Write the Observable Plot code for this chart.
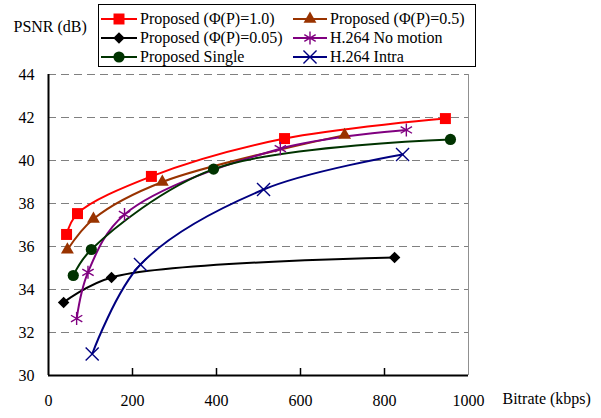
<!DOCTYPE html>
<html>
<head>
<meta charset="utf-8">
<script src="https://cdn.jsdelivr.net/npm/d3@7"></script>
<script src="https://cdn.jsdelivr.net/npm/@observablehq/plot@0.6"></script>
<style>
  html, body { margin: 0; padding: 0; background: #fff; }
  #wrap { position: relative; width: 601px; height: 418px; font-family: "Liberation Serif", "Times New Roman", Times, "DejaVu Serif", serif; }
  #legend { position: absolute; left: 98px; top: 4px; width: 378px; height: 63px; border: 1px solid #000; background: #fff; box-sizing: border-box; }
  .item { position: absolute; font-size: 16px; line-height: 16px; white-space: nowrap; display: flex; align-items: center; font-family: "Liberation Serif", "Times New Roman", Times, "DejaVu Serif", serif; }
  .item svg { margin-right: 3px; }
  svg text { font-family: "Liberation Serif", "Times New Roman", Times, "DejaVu Serif", serif; }
</style>
</head>
<body>
<div id="wrap"><div id="legend"></div></div>
<script>
// ---- data ----
const seriesNames = ["Proposed (\u03A6(P)=1.0)", "Proposed (\u03A6(P)=0.5)", "Proposed (\u03A6(P)=0.05)", "H.264 No motion", "Proposed Single", "H.264 Intra"];
const bitrate1 = [43, 69, 245, 562, 945];
const psnr1 = [36.56, 37.53, 39.26, 41.02, 41.95];
const bitrate05 = [45, 107, 271, 705];
const psnr05 = [35.85, 37.28, 39.0, 41.18];
const bitrate005 = [36, 150, 824];
const psnr005 = [33.4, 34.56, 35.49];
const bitrateNoMotion = [67, 94, 181, 552, 852];
const psnrNoMotion = [32.65, 34.8, 37.49, 40.55, 41.42];
const bitrateSingle = [59, 102, 393, 957];
const psnrSingle = [34.65, 35.86, 39.6, 40.98];
const bitrateIntra = [104, 219, 512, 843];
const psnrIntra = [31.0, 35.16, 38.65, 40.28];
const xTicks = [0, 200, 400, 600, 800, 1000];
const yTicks = [30, 32, 34, 36, 38, 40, 42, 44];

// ---- styles ----
const serif = "'Liberation Serif', 'Times New Roman', Times, 'DejaVu Serif', serif";
const styles = [
  {color: "#ff0000", symbol: "square", r: 6.2, filled: true},
  {color: "#993300", symbol: "triangle", r: 4.8, filled: true},
  {color: "#000000", symbol: "diamond2", r: 5.2, filled: true},
  {color: "#800080", symbol: "asterisk", r: 6.2, filled: false},
  {color: "#003300", symbol: "circle", r: 5.6, filled: true},
  {color: "#000080", symbol: "times", r: 6.0, filled: false}
];
const xs = [bitrate1, bitrate05, bitrate005, bitrateNoMotion, bitrateSingle, bitrateIntra];
const ys = [psnr1, psnr05, psnr005, psnrNoMotion, psnrSingle, psnrIntra];
const series = seriesNames.map((name, i) => ({
  name, style: styles[i],
  data: xs[i].map((x, j) => ({x, y: ys[i][j]}))
}));

const marks = [
  Plot.ruleY(yTicks.filter(d => d > 30), {stroke: "#808080", strokeWidth: 1, strokeDasharray: "8,5"}),
  Plot.ruleX([1000], {stroke: "#909090", strokeWidth: 1}),
  Plot.ruleX([0], {stroke: "#000", strokeWidth: 2}),
  Plot.ruleY([30], {stroke: "#000", strokeWidth: 2}),
  Plot.axisX({ticks: xTicks.slice(1, 5), tickSize: -7, text: null, label: null, stroke: "#000", strokeWidth: 1.5}),
  Plot.axisX({ticks: xTicks, tickSize: 0, tickPadding: 19, label: null, tickFormat: d3.format("d"), fill: "#000", fontSize: 16}),
  Plot.axisY({ticks: yTicks, tickSize: 0, tickPadding: 14, label: null, tickFormat: d3.format("d"), fill: "#000", fontSize: 16}),
  Plot.text(["Bitrate (kbps)"], {frameAnchor: "bottom-right", textAnchor: "start", dx: 34, dy: 28, fontSize: 16, fill: "#000"}),
  Plot.text(["PSNR (dB)"], {frameAnchor: "top-left", textAnchor: "start", dx: -35, dy: -54, fontSize: 16, fill: "#000"})
];
for (const s of series) {
  marks.push(Plot.line(s.data, {x: "x", y: "y", stroke: s.style.color, strokeWidth: 2, curve: "catmull-rom"}));
}
for (const s of series) {
  const st = s.style;
  marks.push(Plot.dot(s.data, {
    x: "x", y: "y", symbol: () => st.symbol, r: st.r,
    fill: st.filled ? st.color : "none",
    stroke: st.filled ? "none" : st.color,
    strokeWidth: st.filled ? 0 : 1.4
  }));
}

const chart = Plot.plot({
  width: 601, height: 418,
  marginLeft: 48, marginRight: 133, marginTop: 74, marginBottom: 43,
  style: {fontFamily: serif, fontSize: "16px", background: "#fff", color: "#000", overflow: "visible"},
  x: {domain: [0, 1000]},
  y: {domain: [30, 44]},
  symbol: {type: "identity"},
  marks
});
document.getElementById("wrap").prepend(chart);

// ---- legend ----
const legend = document.getElementById("legend");
const symbolMap = {square: d3.symbolSquare, triangle: d3.symbolTriangle, diamond2: d3.symbolDiamond2, asterisk: d3.symbolAsterisk, circle: d3.symbolCircle, times: d3.symbolTimes};
series.forEach((s, i) => {
  const col = i % 2, row = Math.floor(i / 2);
  const div = document.createElement("div");
  div.className = "item";
  div.style.left = (col === 0 ? 2 : 194) + "px";
  div.style.top = (6 + row * 19) + "px";
  const w = col === 0 ? 36 : 34;
  const svg = d3.create("svg").attr("width", w).attr("height", 16);
  svg.append("line").attr("x1", 0).attr("x2", w).attr("y1", 8).attr("y2", 8).attr("stroke", s.style.color).attr("stroke-width", 2);
  const st = s.style;
  svg.append("path")
    .attr("transform", `translate(${w / 2},8)`)
    .attr("d", d3.symbol(symbolMap[st.symbol], st.r * st.r * Math.PI)())
    .attr("fill", st.filled ? st.color : "none")
    .attr("stroke", st.filled ? "none" : st.color)
    .attr("stroke-width", 1.4);
  div.appendChild(svg.node());
  const span = document.createElement("span");
  span.textContent = s.name;
  div.appendChild(span);
  legend.appendChild(div);
});
</script>
</body>
</html>
